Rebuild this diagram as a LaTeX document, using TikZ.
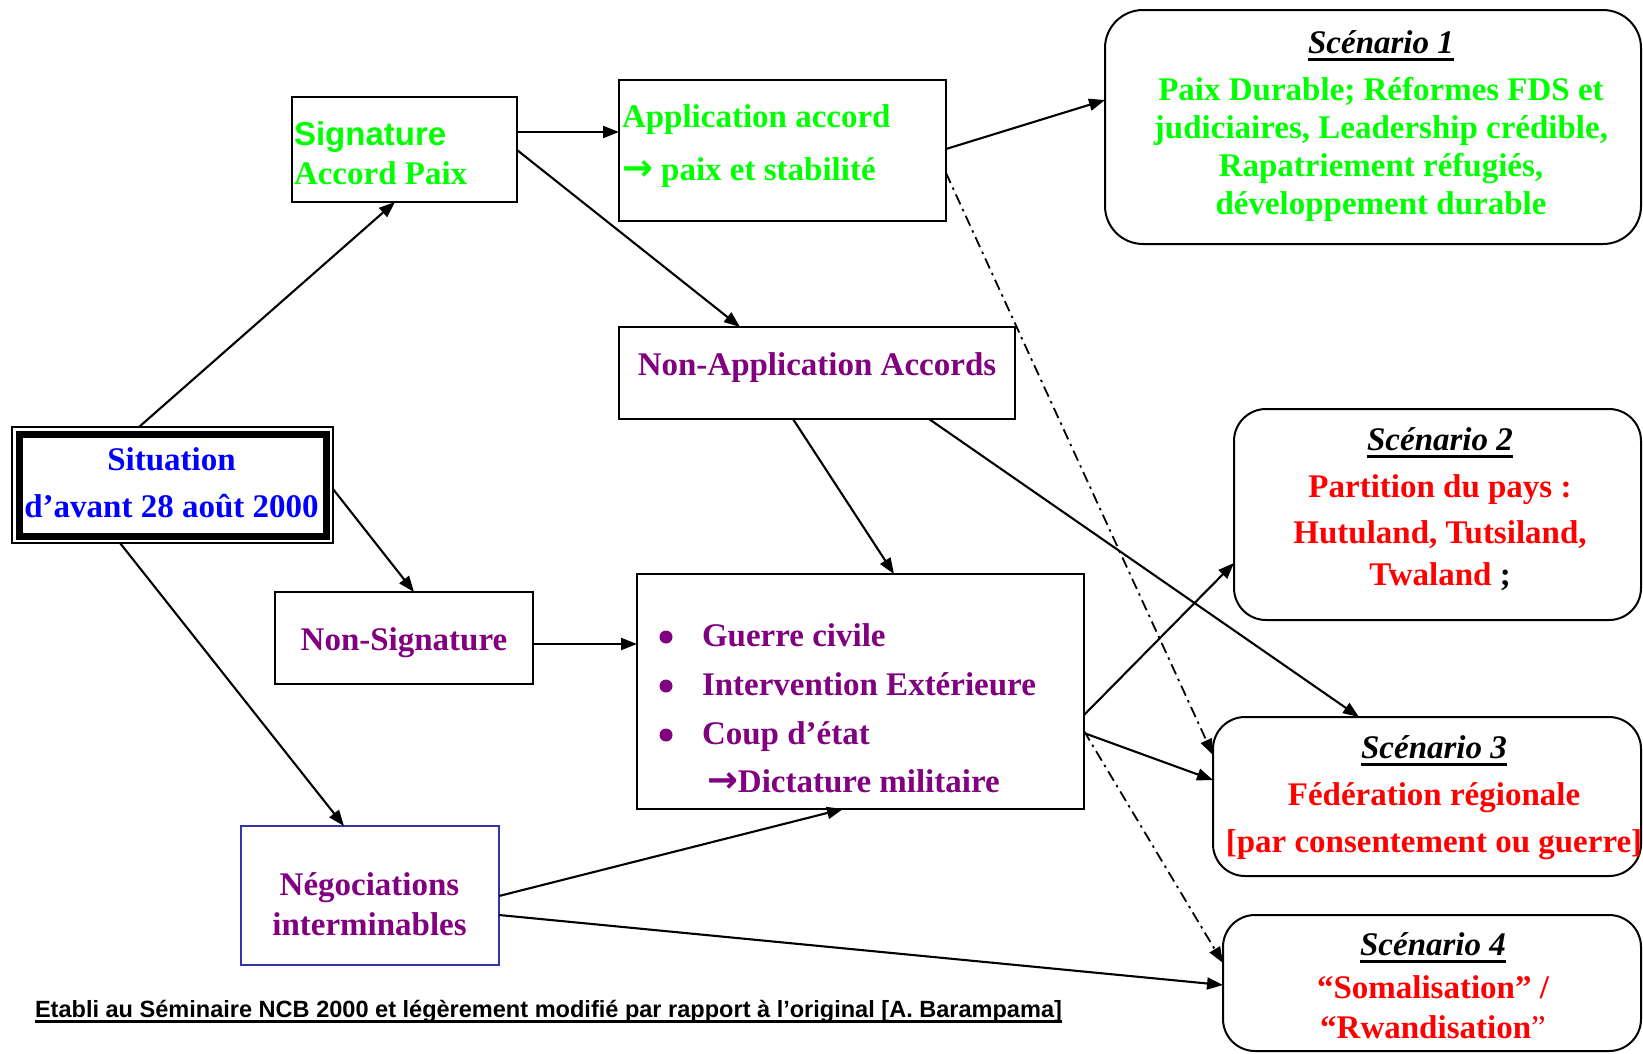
\documentclass[tikz,border=0pt]{standalone}
\usepackage{fontspec}
\usepackage{graphicx}
\setmainfont{Liberation Serif}
\newfontfamily\arialfont{Liberation Sans}
\newfontfamily\narrowfont[FakeStretch=0.82]{Liberation Sans}
\newfontfamily\symfont{DejaVu Sans}
\usetikzlibrary{arrows.meta}
\definecolor{pgreen}{RGB}{0,255,0}
\definecolor{pblue}{RGB}{0,0,255}
\definecolor{ppurple}{RGB}{128,0,128}
\definecolor{pred}{RGB}{255,0,0}
\definecolor{negborder}{RGB}{51,51,170}
\newcommand\myul[3]{\setbox0\hbox{#1}\leavevmode\rlap{\raisebox{-#2}{\rule{\wd0}{#3}}}\box0}
\newcommand\rarr{{\symfont\bfseries\scalebox{1.12}{→}}}
\tikzset{
  box/.style={draw, line width=1.8pt, inner sep=0pt, outer sep=0pt},
  scbox/.style={draw, line width=2pt, rounded corners=32pt, inner sep=0pt, outer sep=0pt},
  txt/.style={inner sep=0pt, outer sep=0pt, anchor=base, font=\fontsize{33}{38}\selectfont\bfseries},
  conn/.style={line width=2.1pt, -{Triangle[length=16pt,width=12pt]}},
  dd/.style={line width=1.8pt, dash pattern=on 11pt off 5pt on 2.5pt off 5pt, -{Triangle[length=16pt,width=12pt]}},
  sctitle/.style={txt, font=\fontsize{33}{38}\selectfont\bfseries\itshape}
}
\begin{document}
\begin{tikzpicture}[x=1pt,y=-1pt]
\fill[white] (0,0) rectangle (1643,1053);
\useasboundingbox (0,0) rectangle (1643,1053);

% ---------- boxes ----------
\node[box, line width=1.2pt, minimum width=321pt, minimum height=116pt] (sit) at (172.5,485) {};
\draw[line width=7pt] ([xshift=7pt,yshift=-7pt]sit.north west) rectangle ([xshift=-7pt,yshift=7pt]sit.south east);
\node[box, minimum width=225pt, minimum height=105pt] (sig) at (404.5,149.5) {};
\node[box, minimum width=327pt, minimum height=141pt] (app) at (782.5,150.5) {};
\node[scbox, rounded corners=38pt, minimum width=536pt, minimum height=234pt] (sc1) at (1373,127) {};
\node[box, minimum width=396pt, minimum height=92pt] (nap) at (817,373) {};
\node[scbox, minimum width=407pt, minimum height=211pt] (sc2) at (1437.5,514.5) {};
\node[box, minimum width=258pt, minimum height=92pt] (nsig) at (404,638) {};
\node[box, minimum width=447pt, minimum height=235pt] (big) at (860.5,691.5) {};
\node[scbox, minimum width=428pt, minimum height=159pt] (sc3) at (1427,796.5) {};
\node[scbox, minimum width=418pt, minimum height=136pt] (sc4) at (1432,983) {};
\node[box, draw=negborder, line width=1.6pt, minimum width=258pt, minimum height=139pt] (neg) at (370,895.5) {};

% ---------- texts ----------
\node[txt, text=pblue] (sitA) at (171.5,470) {Situation};
\node[txt, text=pblue] (sitB) at (171.5,517) {d’avant 28 août 2000};

\node[txt, anchor=base west, text=pgreen, font=\arialfont\fontsize{33}{38}\selectfont\bfseries] (sigA) at (294,145) {Signature};
\node[txt, anchor=base west, text=pgreen] (sigB) at (294,184) {Accord Paix};

\node[txt, anchor=base west, text=pgreen] (appA) at (622,127) {Application accord};
\node[txt, anchor=base west, text=pgreen] (appB) at (622,180) {\rarr{} paix et stabilité};

\node[txt, text=ppurple] (napA) at (817,375) {Non-Application Accords};
\node[txt, text=ppurple] (nsigA) at (404,650) {Non-Signature};

\fill[ppurple] (666,637) circle (6.5pt);
\fill[ppurple] (666,686) circle (6.5pt);
\fill[ppurple] (666,735) circle (6.5pt);
\node[txt, anchor=base west, text=ppurple] (bigA) at (702,646) {Guerre civile};
\node[txt, anchor=base west, text=ppurple] (bigB) at (702,695) {Intervention Extérieure};
\node[txt, anchor=base west, text=ppurple] (bigC) at (702,744) {Coup d’état};
\node[txt, anchor=base west, text=ppurple] (bigD) at (707,792) {\rarr{}Dictature militaire};

\node[txt, text=ppurple] (negA) at (369.5,895) {Négociations};
\node[txt, text=ppurple] (negB) at (369.5,935) {interminables};

\node[sctitle] (sc1t) at (1381,53) {\myul{Scénario 1}{8pt}{3pt}};
\node[txt, text=pgreen] (sc1a) at (1381,100) {Paix Durable; Réformes FDS et};
\node[txt, text=pgreen] (sc1b) at (1381,138) {judiciaires, Leadership crédible,};
\node[txt, text=pgreen] (sc1c) at (1381,176) {Rapatriement réfugiés,};
\node[txt, text=pgreen] (sc1d) at (1381,214) {développement durable};

\node[sctitle] (sc2t) at (1440,450) {\myul{Scénario 2}{8pt}{3pt}};
\node[txt, text=pred] (sc2a) at (1440,497) {Partition du pays :};
\node[txt, text=pred] (sc2b) at (1440,543) {Hutuland, Tutsiland,};
\node[txt, text=pred] (sc2c) at (1440,585) {Twaland\ \textcolor{black}{;}};

\node[sctitle] (sc3t) at (1434,758) {\myul{Scénario 3}{8pt}{3pt}};
\node[txt, text=pred] (sc3a) at (1434,805) {Fédération régionale};
\node[txt, text=pred] (sc3b) at (1434,852) {[par consentement ou guerre]};

\node[sctitle] (sc4t) at (1433,955) {\myul{Scénario 4}{8pt}{3pt}};
\node[txt, text=pred] (sc4a) at (1433,998) {“Somalisation” /};
\node[txt, text=pred] (sc4b) at (1433,1038) {“Rwandisation{\mdseries ”}};

\node[inner sep=0pt, outer sep=0pt, anchor=base west] (foot) at (35,1017)
  {\resizebox{1027pt}{\height}{\narrowfont\bfseries\fontsize{23.5}{26}\selectfont\myul{Etabli au Séminaire NCB 2000 et légèrement modifié par rapport à l’original [A. Barampama]}{6pt}{2.6pt}}};

% ---------- connectors ----------
\draw[conn] ([xshift=127pt]sit.north west) -- ([xshift=103pt]sig.south west);
\draw[conn] ([yshift=-35pt]sig.north east) -- ([yshift=-52pt]app.north west);
\draw[conn] ([yshift=-53pt]sig.north east) -- ([xshift=121pt]nap.north west);
\draw[conn] ([yshift=-69pt]app.north east) -- ([yshift=-90pt]sc1.north west);
\draw[dd] ([yshift=-93pt]app.north east) -- ([yshift=-38pt]sc3.north west);
\draw[conn] ([xshift=174pt]nap.south west) -- ([xshift=257pt]big.north west);
\draw[conn] ([xshift=310pt]nap.south west) -- ([xshift=146pt]sc3.north west);
\draw[conn] ([yshift=-62pt]sit.north east) -- ([xshift=139pt]nsig.north west);
\draw[conn] ([xshift=108pt]sit.south west) -- ([xshift=103pt]neg.north west);
\draw[conn] ([yshift=-52pt]nsig.north east) -- ([yshift=-70pt]big.north west);
\draw[conn] ([yshift=-141pt]big.north east) -- ([yshift=-154pt]sc2.north west);
\draw[conn] ([yshift=-159pt]big.north east) -- ([yshift=-63pt]sc3.north west);
\draw[dd] ([yshift=-157pt]big.north east) -- ([yshift=-48pt]sc4.north west);
\draw[conn] ([yshift=-70pt]neg.north east) -- ([xshift=206pt]big.south west);
\draw[conn] ([yshift=-89pt]neg.north east) -- ([yshift=-70pt]sc4.north west);
\end{tikzpicture}
\end{document}
